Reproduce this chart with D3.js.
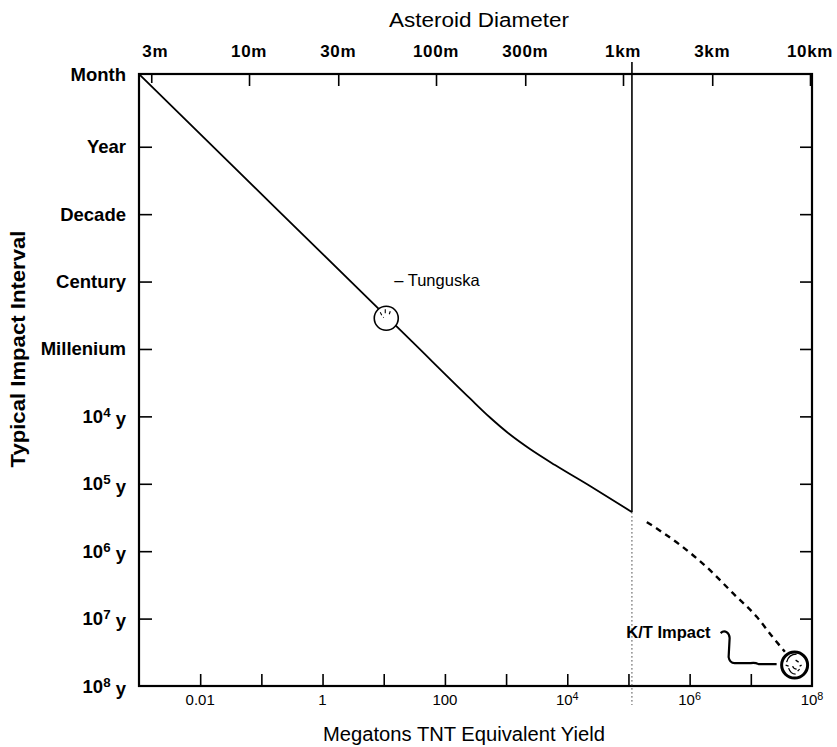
<!DOCTYPE html>
<html>
<head>
<meta charset="utf-8">
<script src="https://cdn.jsdelivr.net/npm/d3@7"></script>
<style>
  body { margin: 0; background: #fff; }
  svg { display: block; }
  text { font-family: "Liberation Sans", Arial, Helvetica, sans-serif; fill: #000; }
</style>
</head>
<body>
<svg id="chart" width="837" height="747"></svg>
<script>
// Typical impact interval versus impact energy (megatons TNT), with asteroid diameter on top.

// Bottom axis: yield in megatons
const yieldTicks = [0.01, 0.1, 1, 10, 100, 1e3, 1e4, 1e5, 1e6, 1e7];
const yieldLabelValues = [0.01, 1, 100, 1e4, 1e6, 1e8];
const yieldLabelText = ["0.01", "1", "100", "10^4", "10^6", "10^8"];

// Left axis: typical interval between impacts, in years
const intervalValues = [1 / 12, 1, 10, 100, 1000, 1e4, 1e5, 1e6, 1e7, 1e8];
const intervalLabels = ["Month", "Year", "Decade", "Century", "Millenium",
  "10^4 y", "10^5 y", "10^6 y", "10^7 y", "10^8 y"];

// Top axis: asteroid diameter in metres
const diameterValues = [3, 10, 30, 100, 300, 1000, 3000, 10000];
const diameterLabels = ["3m", "10m", "30m", "100m", "300m", "1km", "3km", "10km"];

// Global-catastrophe threshold (about 1 km diameter)
const thresholdYield = 1.14e5;

// Frequency curve, solid part (yield Mt, interval years)
const solidYield    = [0.001, 0.03, 1, 30, 257, 546, 1159, 2460, 6310, 23550, 114300];
const solidInterval = [0.0833, 1.72, 38.8, 800, 5420, 10400, 18600, 30500, 52700, 108000, 263000];

// Extrapolated part toward the largest impacts
const dashedYield    = [2.0e5, 7.0e5, 1.9e6, 5.1e6, 1.26e7, 2.3e7, 3.6e7];
const dashedInterval = [3.7e5, 8.1e5, 1.72e6, 4.2e6, 9.5e6, 1.9e7, 3.1e7];

// Marked events
const eventNames    = ["Tunguska", "K/T Impact"];
const eventYield    = [11, 5.2e7];
const eventInterval = [350, 4.9e7];

const W = 837, H = 747;
const margin = { top: 74, right: 25, bottom: 61, left: 139 };
const x0 = margin.left, x1 = W - margin.right;
const y0 = margin.top, y1 = H - margin.bottom;

const x = d3.scaleLog().domain([1e-3, 1e8]).range([x0, x1]);
const y = d3.scaleLog().domain([1 / 12, 1e8]).range([y0, y1]);
const xd = d3.scaleLog().domain([2.58, 10250]).range([x0, x1]);

const svg = d3.select("#chart");

// Write "10^4 y" style labels with a raised exponent
function richText(sel, str) {
  const i = str.indexOf("^");
  if (i < 0) { sel.text(str); return; }
  const base = str.slice(0, i), sup = str.charAt(i + 1), tail = str.slice(i + 2);
  sel.append("tspan").text(base);
  sel.append("tspan").attr("dy", "-0.45em").style("font-size", "0.72em").text(sup);
  if (tail) sel.append("tspan").attr("dy", "0.45em").text(tail);
}

// Inward tick marks on all four sides
function ticks(axis, tx, ty) {
  const g = svg.append("g").attr("transform", `translate(${tx},${ty})`).call(axis);
  g.select(".domain").remove();
  g.selectAll(".tick line").attr("stroke", "#000").attr("stroke-width", 1.6);
  g.selectAll(".tick text").remove();
  return g;
}
ticks(d3.axisBottom(x).tickValues(yieldTicks).tickSize(-12), 0, y1);
ticks(d3.axisLeft(y).tickValues(intervalValues.slice(1, -1)).tickSize(-13), x0, 0);
ticks(d3.axisRight(y).tickValues(intervalValues.slice(1, -1)).tickSize(-12), x1, 0);
const topTicks = ticks(d3.axisTop(xd).tickValues(diameterValues).tickSize(-12), 0, y0);
topTicks.selectAll(".tick line").attr("y2", d => d === 3 ? 9 : 12);

// Plot frame
svg.append("rect")
  .attr("x", x0).attr("y", y0).attr("width", x1 - x0).attr("height", y1 - y0)
  .attr("fill", "none").attr("stroke", "#000").attr("stroke-width", 2.2);

// Tick labels
svg.append("g").selectAll("text").data(yieldLabelValues).join("text")
  .attr("x", d => x(d)).attr("y", y1 + 19)
  .attr("text-anchor", "middle").style("font-size", "15px")
  .each(function (d, i) { richText(d3.select(this), yieldLabelText[i]); });

svg.append("g").selectAll("text").data(intervalValues).join("text")
  .attr("x", x0 - 13).attr("y", d => y(d) + 6.5)
  .attr("text-anchor", "end").style("font-size", "18.5px").style("font-weight", "bold")
  .each(function (d, i) { richText(d3.select(this), intervalLabels[i]); });

svg.append("g").selectAll("text").data(diameterValues).join("text")
  .attr("x", d => xd(d) + (d === 3 ? 4 : 0)).attr("y", y0 - 17)
  .attr("text-anchor", "middle").style("font-size", "17px").style("font-weight", "bold")
  .style("letter-spacing", "0.6px")
  .text((d, i) => diameterLabels[i]);

// Axis titles
svg.append("text").attr("x", 479).attr("y", 27).attr("text-anchor", "middle")
  .style("font-size", "20px").attr("textLength", 180).attr("lengthAdjust", "spacingAndGlyphs")
  .text("Asteroid Diameter");
svg.append("text").attr("x", 464).attr("y", 741).attr("text-anchor", "middle")
  .style("font-size", "20px").attr("textLength", 282).attr("lengthAdjust", "spacingAndGlyphs")
  .text("Megatons TNT Equivalent Yield");
svg.append("text").attr("transform", "translate(25,349) rotate(-90)")
  .attr("text-anchor", "middle").style("font-size", "20px").style("font-weight", "bold")
  .attr("textLength", 237).attr("lengthAdjust", "spacingAndGlyphs")
  .text("Typical Impact Interval");

// Threshold marker: solid above the curve end, dotted below
const tx = x(thresholdYield);
const curveEndY = y(solidInterval[solidInterval.length - 1]);
svg.append("line").attr("x1", tx).attr("x2", tx).attr("y1", y0 - 12).attr("y2", curveEndY)
  .attr("stroke", "#000").attr("stroke-width", 1.6);
svg.append("line").attr("x1", tx).attr("x2", tx).attr("y1", curveEndY).attr("y2", y1 + 19)
  .attr("stroke", "#444").attr("stroke-width", 1).attr("stroke-dasharray", "1.5,2.5");

// Curves
const line = d3.line().x(d => x(d[0])).y(d => y(d[1])).curve(d3.curveMonotoneX);
svg.append("path").datum(d3.zip(solidYield, solidInterval)).attr("d", line)
  .attr("fill", "none").attr("stroke", "#000").attr("stroke-width", 1.8);
svg.append("path").datum(d3.zip(dashedYield, dashedInterval)).attr("d", line)
  .attr("fill", "none").attr("stroke", "#000").attr("stroke-width", 2.4)
  .attr("stroke-dasharray", "6,5");

// Tunguska marker
const tg = svg.append("g").attr("transform", `translate(${x(eventYield[0])},${y(eventInterval[0])})`);
tg.append("circle").attr("r", 12).attr("fill", "#fff").attr("stroke", "#000").attr("stroke-width", 1.6);
tg.append("path").attr("d", "M-6,-6 l1.5,3 M-1,-9 l0,4 M4,-7 l-1,3 M-3,-1 l0.5,0.5")
  .attr("stroke", "#000").attr("stroke-width", 1.1).attr("fill", "none");
tg.append("text").attr("x", 8).attr("y", -32).style("font-size", "16.5px")
  .text("\u2013 " + eventNames[0]);

// K/T marker with a hand-drawn leader
const kt = svg.append("g").attr("transform", `translate(${x(eventYield[1])},${y(eventInterval[1])})`);
kt.append("path")
  .attr("d", "M-74,-32 q3,-3 6,-1 q3,2 3,6 L-66,-8 q1,6 6,6 L-44,-2 q4,-1 8,1 L-18,-1")
  .attr("fill", "none").attr("stroke", "#000").attr("stroke-width", 2.2);
kt.append("circle").attr("r", 13).attr("fill", "#fff").attr("stroke", "#000").attr("stroke-width", 3);
kt.append("path")
  .attr("d", "M-8,-3 q2,-8 10,-8 M-6,3 q2,6 7,6 M1,-5 l3,2 M5,1 l2,-1 M-2,1 q1,3 4,3 M-9,0 l3,1 M3,6 l2,-2")
  .attr("fill", "none").attr("stroke", "#000").attr("stroke-width", 1.3);
kt.append("text").attr("x", -84).attr("y", -27).attr("text-anchor", "end")
  .style("font-size", "16.5px").style("font-weight", "bold").text(eventNames[1]);
</script>
</body>
</html>
